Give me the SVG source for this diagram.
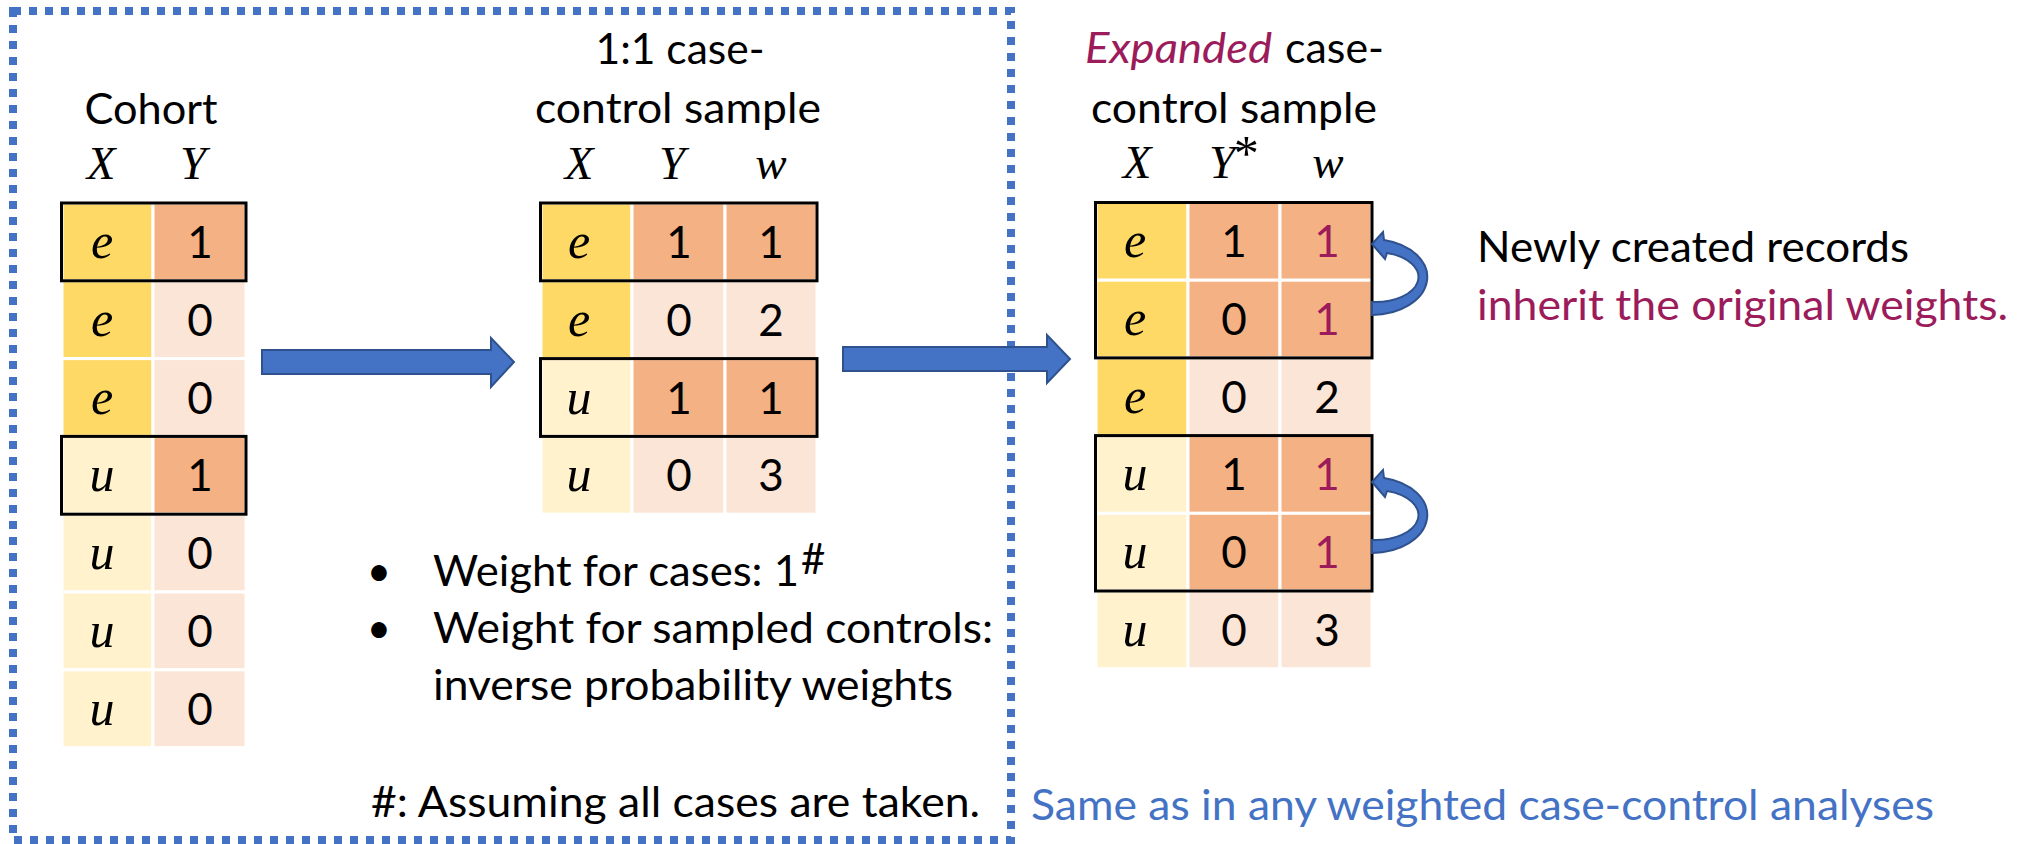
<svg xmlns="http://www.w3.org/2000/svg" width="2021" height="844" viewBox="0 0 2021 844">
<style>
.bg{fill:#fff}
.math{font-family:"Liberation Serif","DejaVu Serif",serif;font-style:italic;font-size:50px;text-anchor:middle;fill:#000}
.hd{font-size:47px}
.num{font-family:Lato,"Liberation Sans",sans-serif;font-size:44px;text-anchor:middle;fill:#000}
.txt{font-family:Lato,"Liberation Sans",sans-serif;font-size:42px;fill:#000}
.mid{text-anchor:middle}
.pur{fill:#9B1B5B}
.blu{fill:#4472C4}
.cell{stroke:#fff;stroke-width:3}
.g{fill:#FFD966}.ly{fill:#FFF2CC}.o{fill:#F4B183}.p{fill:#FBE5D6}
.box{fill:none;stroke:#000;stroke-width:3}
.arr{fill:#4472C4;stroke:#2F528F;stroke-width:2}
.dash{fill:none;stroke:#4472C4;stroke-width:8;stroke-dasharray:8 8}
</style>
<rect class="bg" x="0" y="0" width="2021" height="844"/>
<g id="frame">
<rect class="dash" x="13" y="11" width="998" height="829"/>
</g>
<g id="cohort">
<text class="txt mid" x="151" y="124" textLength="133" lengthAdjust="spacingAndGlyphs">Cohort</text>
<text class="math hd" x="101" y="179">X</text>
<text class="math hd" x="193" y="179">Y</text>
<rect class="cell g" x="62" y="203" width="91" height="77.8"/><rect class="cell o" x="153" y="203" width="93" height="77.8"/>
<rect class="cell g" x="62" y="280.8" width="91" height="77.8"/><rect class="cell p" x="153" y="280.8" width="93" height="77.8"/>
<rect class="cell g" x="62" y="358.6" width="91" height="77.8"/><rect class="cell p" x="153" y="358.6" width="93" height="77.8"/>
<rect class="cell ly" x="62" y="436.4" width="91" height="77.8"/><rect class="cell o" x="153" y="436.4" width="93" height="77.8"/>
<rect class="cell ly" x="62" y="514.2" width="91" height="77.8"/><rect class="cell p" x="153" y="514.2" width="93" height="77.8"/>
<rect class="cell ly" x="62" y="592" width="91" height="77.8"/><rect class="cell p" x="153" y="592" width="93" height="77.8"/>
<rect class="cell ly" x="62" y="669.8" width="91" height="77.8"/><rect class="cell p" x="153" y="669.8" width="93" height="77.8"/>
<rect class="box" x="61.5" y="203" width="184.5" height="77.8"/>
<rect class="box" x="61.5" y="436.4" width="184.5" height="77.8"/>
<text class="math" x="102" y="258">e</text><text class="num" x="200" y="258">1</text>
<text class="math" x="102" y="336">e</text><text class="num" x="200" y="336">0</text>
<text class="math" x="102" y="414">e</text><text class="num" x="200" y="414">0</text>
<text class="math" x="102" y="491">u</text><text class="num" x="200" y="491">1</text>
<text class="math" x="102" y="569">u</text><text class="num" x="200" y="569">0</text>
<text class="math" x="102" y="647">u</text><text class="num" x="200" y="647">0</text>
<text class="math" x="102" y="725">u</text><text class="num" x="200" y="725">0</text>
</g>
<g id="sample">
<text class="txt mid" x="680" y="64" textLength="169" lengthAdjust="spacingAndGlyphs">1:1 case-</text>
<text class="txt mid" x="678" y="123" textLength="286" lengthAdjust="spacingAndGlyphs">control sample</text>
<text class="math hd" x="579" y="179">X</text>
<text class="math hd" x="672" y="179">Y</text>
<text class="math hd" x="771" y="179">w</text>
<rect class="cell g" x="541" y="203" width="91" height="77.8"/><rect class="cell o" x="632" y="203" width="93" height="77.8"/><rect class="cell o" x="725" y="203" width="92" height="77.8"/>
<rect class="cell g" x="541" y="280.8" width="91" height="77.8"/><rect class="cell p" x="632" y="280.8" width="93" height="77.8"/><rect class="cell p" x="725" y="280.8" width="92" height="77.8"/>
<rect class="cell ly" x="541" y="358.6" width="91" height="77.8"/><rect class="cell o" x="632" y="358.6" width="93" height="77.8"/><rect class="cell o" x="725" y="358.6" width="92" height="77.8"/>
<rect class="cell ly" x="541" y="436.4" width="91" height="77.8"/><rect class="cell p" x="632" y="436.4" width="93" height="77.8"/><rect class="cell p" x="725" y="436.4" width="92" height="77.8"/>
<rect class="box" x="540.5" y="203" width="276.5" height="77.8"/>
<rect class="box" x="540.5" y="358.6" width="276.5" height="77.8"/>
<text class="math" x="579" y="258">e</text><text class="num" x="679" y="258">1</text><text class="num" x="771" y="258">1</text>
<text class="math" x="579" y="336">e</text><text class="num" x="679" y="336">0</text><text class="num" x="771" y="336">2</text>
<text class="math" x="579" y="414">u</text><text class="num" x="679" y="414">1</text><text class="num" x="771" y="414">1</text>
<text class="math" x="579" y="491">u</text><text class="num" x="679" y="491">0</text><text class="num" x="771" y="491">3</text>
</g>
<g id="expanded">
<text class="txt" y="63"><tspan x="1085" class="pur" font-style="italic" textLength="187" lengthAdjust="spacingAndGlyphs">Expanded</tspan><tspan x="1285" textLength="99" lengthAdjust="spacingAndGlyphs">case-</tspan></text>
<text class="txt mid" x="1234" y="123" textLength="286" lengthAdjust="spacingAndGlyphs">control sample</text>
<text class="math hd" x="1137" y="178">X</text>
<text class="math hd" x="1222" y="178">Y</text>
<text class="math" x="1244" y="170" font-size="24" font-style="normal">*</text>
<text class="math hd" x="1328" y="178">w</text>
<rect class="cell g" x="1096" y="202.5" width="92" height="77.7"/><rect class="cell o" x="1188" y="202.5" width="92" height="77.7"/><rect class="cell o" x="1280" y="202.5" width="92" height="77.7"/>
<rect class="cell g" x="1096" y="280.2" width="92" height="77.7"/><rect class="cell o" x="1188" y="280.2" width="92" height="77.7"/><rect class="cell o" x="1280" y="280.2" width="92" height="77.7"/>
<rect class="cell g" x="1096" y="357.9" width="92" height="77.7"/><rect class="cell p" x="1188" y="357.9" width="92" height="77.7"/><rect class="cell p" x="1280" y="357.9" width="92" height="77.7"/>
<rect class="cell ly" x="1096" y="435.6" width="92" height="77.7"/><rect class="cell o" x="1188" y="435.6" width="92" height="77.7"/><rect class="cell o" x="1280" y="435.6" width="92" height="77.7"/>
<rect class="cell ly" x="1096" y="513.3" width="92" height="77.7"/><rect class="cell o" x="1188" y="513.3" width="92" height="77.7"/><rect class="cell o" x="1280" y="513.3" width="92" height="77.7"/>
<rect class="cell ly" x="1096" y="591" width="92" height="77.7"/><rect class="cell p" x="1188" y="591" width="92" height="77.7"/><rect class="cell p" x="1280" y="591" width="92" height="77.7"/>
<rect class="box" x="1095.5" y="202.5" width="276.5" height="155.4"/>
<rect class="box" x="1095.5" y="435.6" width="276.5" height="155.4"/>
<text class="math" x="1135" y="257">e</text><text class="num" x="1234" y="257">1</text><text class="num pur" x="1327" y="257">1</text>
<text class="math" x="1135" y="335">e</text><text class="num" x="1234" y="335">0</text><text class="num pur" x="1327" y="335">1</text>
<text class="math" x="1135" y="413">e</text><text class="num" x="1234" y="413">0</text><text class="num" x="1327" y="413">2</text>
<text class="math" x="1135" y="490">u</text><text class="num" x="1234" y="490">1</text><text class="num pur" x="1327" y="490">1</text>
<text class="math" x="1135" y="568">u</text><text class="num" x="1234" y="568">0</text><text class="num pur" x="1327" y="568">1</text>
<text class="math" x="1135" y="646">u</text><text class="num" x="1234" y="646">0</text><text class="num" x="1327" y="646">3</text>
</g>
<g id="connectors">
<polygon class="arr" points="262,350 491,350 491,338 514,362 491,387 491,374 262,374"/>
<polygon class="arr" points="843,347 1047,347 1047,335 1070,359 1047,383 1047,371 843,371"/>
<path class="arr" d="M1372,315 A56,38 0 0 0 1384,240 L1383,232 L1372,244 L1385,259 L1387,253 A43,25 0 0 1 1372,302 Z"/>
<path class="arr" transform="translate(0,238)" d="M1372,315 A56,38 0 0 0 1384,240 L1383,232 L1372,244 L1385,259 L1387,253 A43,25 0 0 1 1372,302 Z"/>
</g>
<g id="notes">
<text class="txt" x="1477" y="262" textLength="432" lengthAdjust="spacingAndGlyphs">Newly created records</text>
<text class="txt pur" x="1477" y="320" textLength="531" lengthAdjust="spacingAndGlyphs">inherit the original weights.</text>
<text class="txt mid" x="379" y="586">•</text>
<text class="txt" x="433" y="586" textLength="366" lengthAdjust="spacingAndGlyphs">Weight for cases: 1</text>
<text class="txt" x="801" y="574" font-size="22">#</text>
<text class="txt mid" x="379" y="643">•</text>
<text class="txt" x="433" y="643" textLength="560" lengthAdjust="spacingAndGlyphs">Weight for sampled controls:</text>
<text class="txt" x="433" y="700" textLength="520" lengthAdjust="spacingAndGlyphs">inverse probability weights</text>
<text class="txt" x="371" y="817" textLength="609" lengthAdjust="spacingAndGlyphs">#: Assuming all cases are taken.</text>
<text class="txt blu" x="1031" y="820" textLength="903" lengthAdjust="spacingAndGlyphs">Same as in any weighted case-control analyses</text>
</g>
</svg>
